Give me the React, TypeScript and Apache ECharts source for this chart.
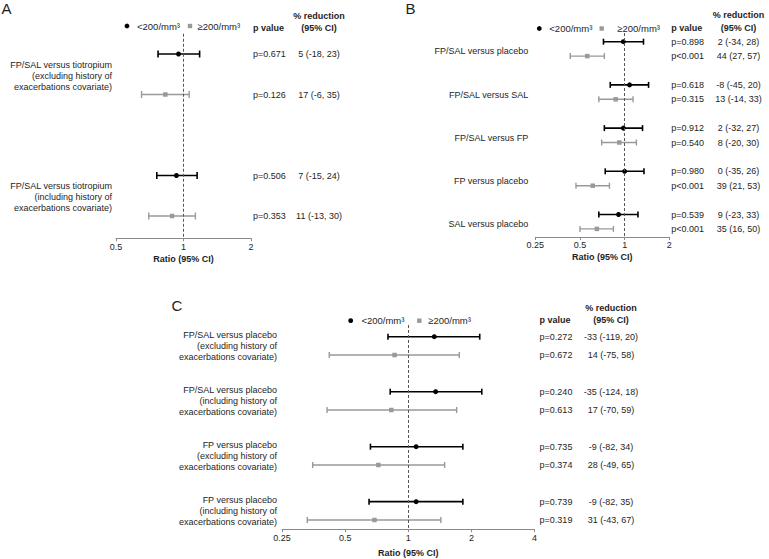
import React, { useEffect, useRef } from "react";
import * as echarts from "echarts";

const FONT = "'Liberation Sans', Arial, Helvetica, sans-serif";
const TEXT = "#1e1e1e";
const BLACK = "#000000";
const GRAY = "#999999";

const LEGEND_LOW = "<200/mm³";
const LEGEND_HIGH = "≥200/mm³";

// ---------- Panel A ----------
const A_CATEGORIES = [
  "FP/SAL versus tiotropium\n(excluding history of\nexacerbations covariate)",
  "FP/SAL versus tiotropium\n(including history of\nexacerbations covariate)",
];
const A_LOW_RATIO = [0.95, 0.93];
const A_LOW_CI_LOW = [0.77, 0.76];
const A_LOW_CI_HIGH = [1.18, 1.15];
const A_LOW_P = ["p=0.671", "p=0.506"];
const A_LOW_REDUCTION = ["5 (-18, 23)", "7 (-15, 24)"];
const A_HIGH_RATIO = [0.83, 0.89];
const A_HIGH_CI_LOW = [0.65, 0.7];
const A_HIGH_CI_HIGH = [1.06, 1.13];
const A_HIGH_P = ["p=0.126", "p=0.353"];
const A_HIGH_REDUCTION = ["17 (-6, 35)", "11 (-13, 30)"];
const A_TICKS = [0.5, 1, 2];

// ---------- Panel B ----------
const B_CATEGORIES = [
  "FP/SAL versus placebo",
  "FP/SAL versus SAL",
  "FP/SAL versus FP",
  "FP versus placebo",
  "SAL versus placebo",
];
const B_LOW_RATIO = [0.98, 1.08, 0.98, 1.0, 0.91];
const B_LOW_CI_LOW = [0.72, 0.8, 0.73, 0.74, 0.67];
const B_LOW_CI_HIGH = [1.34, 1.45, 1.32, 1.35, 1.23];
const B_LOW_P = ["p=0.898", "p=0.618", "p=0.912", "p=0.980", "p=0.539"];
const B_LOW_REDUCTION = ["2 (-34, 28)", "-8 (-45, 20)", "2 (-32, 27)", "0 (-35, 26)", "9 (-23, 33)"];
const B_HIGH_RATIO = [0.56, 0.87, 0.92, 0.61, 0.65];
const B_HIGH_CI_LOW = [0.43, 0.67, 0.7, 0.47, 0.5];
const B_HIGH_CI_HIGH = [0.73, 1.14, 1.2, 0.79, 0.84];
const B_HIGH_P = ["p<0.001", "p=0.315", "p=0.540", "p<0.001", "p<0.001"];
const B_HIGH_REDUCTION = ["44 (27, 57)", "13 (-14, 33)", "8 (-20, 30)", "39 (21, 53)", "35 (16, 50)"];
const B_TICKS = [0.25, 0.5, 1, 2];

// ---------- Panel C ----------
const C_CATEGORIES = [
  "FP/SAL versus placebo\n(excluding history of\nexacerbations covariate)",
  "FP/SAL versus placebo\n(including history of\nexacerbations covariate)",
  "FP versus placebo\n(excluding history of\nexacerbations covariate)",
  "FP versus placebo\n(including history of\nexacerbations covariate)",
];
const C_LOW_RATIO = [1.33, 1.35, 1.09, 1.09];
const C_LOW_CI_LOW = [0.8, 0.82, 0.66, 0.65];
const C_LOW_CI_HIGH = [2.19, 2.24, 1.82, 1.82];
const C_LOW_P = ["p=0.272", "p=0.240", "p=0.735", "p=0.739"];
const C_LOW_REDUCTION = ["-33 (-119, 20)", "-35 (-124, 18)", "-9 (-82, 34)", "-9 (-82, 35)"];
const C_HIGH_RATIO = [0.86, 0.83, 0.72, 0.69];
const C_HIGH_CI_LOW = [0.42, 0.41, 0.35, 0.33];
const C_HIGH_CI_HIGH = [1.75, 1.7, 1.49, 1.43];
const C_HIGH_P = ["p=0.672", "p=0.613", "p=0.374", "p=0.319"];
const C_HIGH_REDUCTION = ["14 (-75, 58)", "17 (-70, 59)", "28 (-49, 65)", "31 (-43, 67)"];
const C_TICKS = [0.25, 0.5, 1, 2, 4];

type Panel = {
  letter: string;
  categories: string[];
  low: { ratio: number[]; lo: number[]; hi: number[]; p: string[]; red: string[] };
  high: { ratio: number[]; lo: number[]; hi: number[]; p: string[]; red: string[] };
  ticks: number[];
  // layout
  gridLeft: number;
  gridRightX: number;
  row0: number;
  unit: number;
  yMin: number;
  yMax: number;
  labelGap: number;
  labelShift: number;
  lineHeight: number;
  pGap: number;
  redX: number;
  legend: { dot: number; dotText: number; sq: number; sqText: number; y: number };
  letterPos: [number, number];
  headerY: [number, number];
  nameGap: number;
  cap: number;
};

const PANELS: Panel[] = [
  {
    letter: "A",
    categories: A_CATEGORIES,
    low: { ratio: A_LOW_RATIO, lo: A_LOW_CI_LOW, hi: A_LOW_CI_HIGH, p: A_LOW_P, red: A_LOW_REDUCTION },
    high: { ratio: A_HIGH_RATIO, lo: A_HIGH_CI_LOW, hi: A_HIGH_CI_HIGH, p: A_HIGH_P, red: A_HIGH_REDUCTION },
    ticks: A_TICKS,
    gridLeft: 116,
    gridRightX: 251,
    row0: 54,
    unit: 40.5,
    yMin: -0.5,
    yMax: 4.55,
    labelGap: 4,
    labelShift: 1.5,
    lineHeight: 11,
    pGap: 2,
    redX: 319,
    legend: { dot: 127, dotText: 137, sq: 190, sqText: 197.5, y: 26 },
    letterPos: [1.5, 8.5],
    headerY: [16, 28],
    nameGap: 16,
    cap: 3.5,
  },
  {
    letter: "B",
    categories: B_CATEGORIES,
    low: { ratio: B_LOW_RATIO, lo: B_LOW_CI_LOW, hi: B_LOW_CI_HIGH, p: B_LOW_P, red: B_LOW_REDUCTION },
    high: { ratio: B_HIGH_RATIO, lo: B_HIGH_CI_LOW, hi: B_HIGH_CI_HIGH, p: B_HIGH_P, red: B_HIGH_REDUCTION },
    ticks: B_TICKS,
    gridLeft: 535.3,
    gridRightX: 669.3,
    row0: 41.7,
    unit: 14.4,
    yMin: -0.6,
    yMax: 13.56,
    labelGap: 7,
    labelShift: 2.5,
    lineHeight: 11,
    pGap: 2,
    redX: 738.5,
    legend: { dot: 539.3, dotText: 549.3, sq: 601.7, sqText: 617.3, y: 28.5 },
    letterPos: [405.5, 8.5],
    headerY: [15, 28],
    nameGap: 16,
    cap: 3,
  },
  {
    letter: "C",
    categories: C_CATEGORIES,
    low: { ratio: C_LOW_RATIO, lo: C_LOW_CI_LOW, hi: C_LOW_CI_HIGH, p: C_LOW_P, red: C_LOW_REDUCTION },
    high: { ratio: C_HIGH_RATIO, lo: C_HIGH_CI_LOW, hi: C_HIGH_CI_HIGH, p: C_HIGH_P, red: C_HIGH_REDUCTION },
    ticks: C_TICKS,
    gridLeft: 282,
    gridRightX: 534.6,
    row0: 336.7,
    unit: 18.33,
    yMin: -0.64,
    yMax: 10.5,
    labelGap: 5,
    labelShift: 0,
    lineHeight: 11,
    pGap: 5,
    redX: 611,
    legend: { dot: 350.7, dotText: 361.4, sq: 419.3, sqText: 428.2, y: 320.7 },
    letterPos: [171.5, 305],
    headerY: [308.3, 320],
    nameGap: 19,
    cap: 3,
  },
];

const W = 769;
const H = 559;
const GROUP_STEP = 3;

function buildOption() {
  const grids: any[] = [];
  const xAxes: any[] = [];
  const yAxes: any[] = [];
  const series: any[] = [];
  const graphics: any[] = [];

  PANELS.forEach((pn, idx) => {
    const top = pn.row0 + pn.yMin * pn.unit;
    const bottomPx = pn.row0 + pn.yMax * pn.unit;
    grids.push({
      left: pn.gridLeft,
      width: pn.gridRightX - pn.gridLeft,
      top,
      height: bottomPx - top,
      containLabel: false,
    });
    xAxes.push({
      type: "log",
      logBase: 2,
      gridIndex: idx,
      min: pn.ticks[0],
      max: pn.ticks[pn.ticks.length - 1],
      position: "bottom",
      axisLine: { show: true, onZero: false, lineStyle: { color: "#8a8a8a", width: 1 } },
      axisTick: { show: true, length: 3, inside: false, lineStyle: { color: "#8a8a8a", width: 1 } },
      axisLabel: {
        fontSize: 9,
        color: TEXT,
        margin: 4,
        fontFamily: FONT,
        formatter: (v: number) => String(Math.round(v * 100) / 100),
      },
      splitLine: { show: false },
      minorTick: { show: false },
      name: "Ratio (95% CI)",
      nameLocation: "middle",
      nameGap: pn.nameGap,
      nameTextStyle: { fontSize: 9, fontWeight: "bold", color: TEXT, fontFamily: FONT },
    });
    yAxes.push({
      type: "value",
      gridIndex: idx,
      min: pn.yMin,
      max: pn.yMax,
      inverse: true,
      show: false,
      splitLine: { show: false },
    });

    const groups = [
      { key: "low", d: pn.low, color: BLACK, symbol: "circle", lw: 1.6, name: LEGEND_LOW, off: 0 },
      { key: "high", d: pn.high, color: GRAY, symbol: "rect", lw: 1.4, name: LEGEND_HIGH, off: 1 },
    ];

    groups.forEach((g, gi) => {
      const ys = g.d.ratio.map((_, i) => i * GROUP_STEP + g.off);
      const pTexts = g.d.p;
      const redTexts = g.d.red;
      const cap = pn.cap;
      const pGap = pn.pGap;
      const redX = pn.redX;
      series.push({
        type: "custom",
        name: g.name + " CI " + pn.letter,
        xAxisIndex: idx,
        yAxisIndex: idx,
        z: 2,
        silent: true,
        clip: false,
        data: g.d.lo.map((lo, i) => [lo, g.d.hi[i], ys[i]]),
        encode: { x: [0, 1], y: 2 },
        renderItem: (params: any, api: any) => {
          const y = api.value(2);
          const a = api.coord([api.value(0), y]);
          const b = api.coord([api.value(1), y]);
          const cs = params.coordSys;
          const i = params.dataIndex;
          const st = { stroke: g.color, lineWidth: g.lw };
          const ts = { fontSize: 9, fontFamily: FONT, fill: TEXT, verticalAlign: "middle" };
          return {
            type: "group",
            children: [
              { type: "line", shape: { x1: a[0], y1: a[1], x2: b[0], y2: b[1] }, style: st },
              { type: "line", shape: { x1: a[0], y1: a[1] - cap, x2: a[0], y2: a[1] + cap }, style: st },
              { type: "line", shape: { x1: b[0], y1: b[1] - cap, x2: b[0], y2: b[1] + cap }, style: st },
              {
                type: "text",
                x: cs.x + cs.width + pGap,
                y: a[1],
                style: { ...ts, text: pTexts[i], align: "left" },
              },
              {
                type: "text",
                x: redX,
                y: a[1],
                style: { ...ts, text: redTexts[i], align: "center" },
              },
            ],
          };
        },
      });
      const sc: any = {
        type: "scatter",
        name: g.name,
        xAxisIndex: idx,
        yAxisIndex: idx,
        z: 3,
        silent: true,
        symbol: g.symbol,
        symbolSize: gi === 0 ? 5 : 4.5,
        itemStyle: { color: g.color, opacity: 1 },
        data: g.d.ratio.map((r, i) => [r, ys[i]]),
      };
      if (gi === 0) {
        sc.markLine = {
          silent: true,
          symbol: ["none", "none"],
          label: { show: false },
          lineStyle: { type: [3, 2], color: "#555555", width: 1 },
          data: [{ xAxis: 1 }],
        };
      }
      series.push(sc);
    });

    // row labels
    const labelShift = pn.labelShift;
    const labelGap = pn.labelGap;
    const cats = pn.categories;
    const lh = pn.lineHeight;
    series.push({
      type: "custom",
      name: "labels " + pn.letter,
      xAxisIndex: idx,
      yAxisIndex: idx,
      silent: true,
      clip: false,
      data: cats.map((_, i) => [pn.ticks[0], i * GROUP_STEP + 0.5]),
      encode: { x: 0, y: 1 },
      renderItem: (params: any, api: any) => {
        const p = api.coord([api.value(0), api.value(1)]);
        return {
          type: "text",
          x: params.coordSys.x - labelGap,
          y: p[1] + labelShift,
          style: {
            text: cats[params.dataIndex],
            fontSize: 9,
            fontFamily: FONT,
            fill: TEXT,
            align: "right",
            verticalAlign: "middle",
            lineHeight: lh,
          },
        };
      },
    });

    // graphics: letter, legend, headers
    graphics.push({
      type: "text",
      x: pn.letterPos[0],
      y: pn.letterPos[1],
      style: { text: pn.letter, fontSize: 15, fontFamily: FONT, fill: TEXT, verticalAlign: "middle" },
    });
    const lg = pn.legend;
    graphics.push({ type: "circle", shape: { cx: lg.dot, cy: lg.y, r: 2.4 }, style: { fill: BLACK } });
    graphics.push({
      type: "text",
      x: lg.dotText,
      y: lg.y,
      style: { text: LEGEND_LOW, fontSize: 9.5, fontFamily: FONT, fill: TEXT, verticalAlign: "middle" },
    });
    graphics.push({
      type: "rect",
      shape: { x: lg.sq - 2.2, y: lg.y - 2.2, width: 4.4, height: 4.4 },
      style: { fill: GRAY },
    });
    graphics.push({
      type: "text",
      x: lg.sqText,
      y: lg.y,
      style: { text: LEGEND_HIGH, fontSize: 9.5, fontFamily: FONT, fill: TEXT, verticalAlign: "middle" },
    });
    graphics.push({
      type: "text",
      x: pn.gridRightX + pn.pGap,
      y: pn.headerY[1],
      style: { text: "p value", fontSize: 9, fontWeight: "bold", fontFamily: FONT, fill: TEXT, verticalAlign: "middle" },
    });
    graphics.push({
      type: "text",
      x: pn.redX,
      y: pn.headerY[0],
      style: { text: "% reduction", fontSize: 9, fontWeight: "bold", fontFamily: FONT, fill: TEXT, align: "center", verticalAlign: "middle" },
    });
    graphics.push({
      type: "text",
      x: pn.redX,
      y: pn.headerY[1],
      style: { text: "(95% CI)", fontSize: 9, fontWeight: "bold", fontFamily: FONT, fill: TEXT, align: "center", verticalAlign: "middle" },
    });
  });

  return {
    animation: false,
    backgroundColor: "#ffffff",
    textStyle: { fontFamily: FONT },
    grid: grids,
    xAxis: xAxes,
    yAxis: yAxes,
    series,
    graphic: graphics,
  };
}

export default function App() {
  const ref = useRef<HTMLDivElement>(null);
  useEffect(() => {
    if (!ref.current) return;
    const chart = echarts.init(ref.current, undefined, { renderer: "svg", width: W, height: H });
    chart.setOption(buildOption() as any);
    return () => chart.dispose();
  }, []);
  return (
    <div
      ref={ref}
      style={{ position: "fixed", left: 0, top: 0, width: W, height: H, background: "#fff" }}
    />
  );
}
